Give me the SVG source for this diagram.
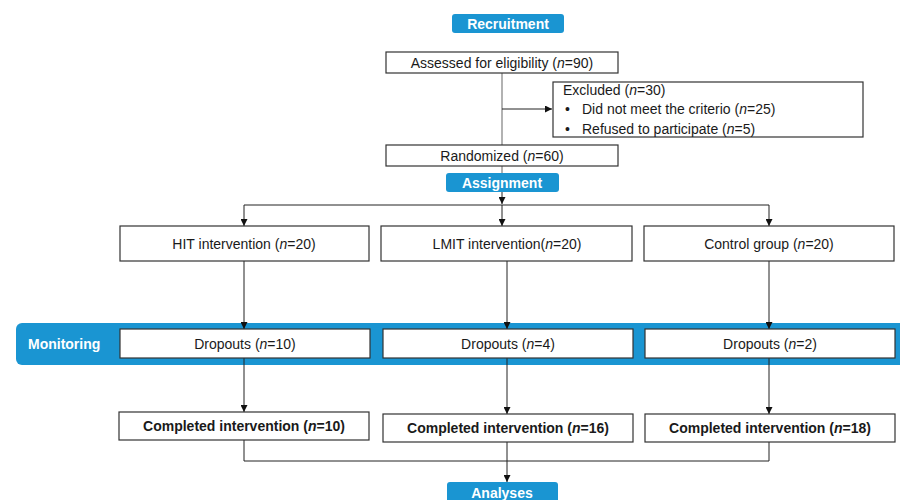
<svg xmlns="http://www.w3.org/2000/svg" width="900" height="500" viewBox="0 0 900 500">
<defs>
<marker id="ah" viewBox="0 0 10 10" refX="10" refY="5" markerWidth="7" markerHeight="7" markerUnits="userSpaceOnUse" orient="auto"><path d="M0,0 L10,5 L0,10 z" fill="#111"/></marker>
<style>
.box{fill:#fff;stroke:#333;stroke-width:1.2}
.hdr{fill:#1a95d2}
.t{font-family:"Liberation Sans",Arial,sans-serif;font-size:14px;fill:#1a1a1a}
.b{font-weight:bold}
.w{font-family:"Liberation Sans",Arial,sans-serif;font-size:14px;font-weight:bold;fill:#fff}
.ln{fill:none;stroke:#222;stroke-width:1}
.gl{fill:none;stroke:#999;stroke-width:1.5}
</style>
</defs>
<rect width="900" height="500" fill="#fff"/>
<g id="band-monitoring"><rect class="hdr" x="16" y="323" width="890" height="42" rx="6"/><text class="w" x="28" y="349">Monitoring</text></g>
<g id="connectors">
<path class="gl" d="M502,73 V145"/>
<path class="ln" d="M502,109 H552" marker-end="url(#ah)"/>
<path class="gl" d="M502,166 V173"/>
<path class="ln" d="M502,192 V204" marker-end="url(#ah)"/>
<path class="ln" d="M244,205 H769"/>
<path class="ln" d="M244,205 V226" marker-end="url(#ah)"/>
<path class="ln" d="M502,205 V226" marker-end="url(#ah)"/>
<path class="ln" d="M769,205 V226" marker-end="url(#ah)"/>
<path class="ln" d="M244,261 V329" marker-end="url(#ah)"/>
<path class="ln" d="M507,261 V329" marker-end="url(#ah)"/>
<path class="ln" d="M769,261 V329" marker-end="url(#ah)"/>
<path class="ln" d="M244,358 V412" marker-end="url(#ah)"/>
<path class="ln" d="M507,358 V414" marker-end="url(#ah)"/>
<path class="ln" d="M769,358 V414" marker-end="url(#ah)"/>
<path class="ln" d="M244,440 V461 H769 V442"/>
<path class="ln" d="M507,442 V482" marker-end="url(#ah)"/>
</g>
<g id="recruitment"><rect class="hdr" x="452" y="14" width="112" height="19" rx="3"/><text class="w" x="508" y="28.5" text-anchor="middle">Recruitment</text></g>
<g id="assessed"><rect class="box" x="386" y="52" width="232" height="21"/><text class="t" x="502" y="67.5" text-anchor="middle">Assessed for eligibility (<tspan font-style="italic">n</tspan>=90)</text></g>
<g id="excluded"><rect class="box" x="553" y="82" width="310" height="55"/>
<text class="t" x="563" y="95">Excluded (<tspan font-style="italic">n</tspan>=30)</text>
<text class="t" x="565" y="114">•</text><text class="t" x="582" y="114">Did not meet the criterio (<tspan font-style="italic">n</tspan>=25)</text>
<text class="t" x="565" y="134">•</text><text class="t" x="582" y="134">Refused to participate (<tspan font-style="italic">n</tspan>=5)</text></g>
<g id="randomized"><rect class="box" x="386" y="145" width="232" height="21"/><text class="t" x="502" y="160.5" text-anchor="middle">Randomized (<tspan font-style="italic">n</tspan>=60)</text></g>
<g id="assignment"><rect class="hdr" x="446" y="173" width="113" height="19" rx="3"/><text class="w" x="502" y="187.5" text-anchor="middle">Assignment</text></g>
<g id="hit"><rect class="box" x="120" y="226" width="249" height="35"/><text class="t" x="244" y="248.5" text-anchor="middle">HIT intervention (<tspan font-style="italic">n</tspan>=20)</text></g>
<g id="lmit"><rect class="box" x="381" y="226" width="251" height="35"/><text class="t" x="507" y="248.5" text-anchor="middle">LMIT intervention(<tspan font-style="italic">n</tspan>=20)</text></g>
<g id="control"><rect class="box" x="644" y="226" width="250" height="35"/><text class="t" x="769" y="248.5" text-anchor="middle">Control group (<tspan font-style="italic">n</tspan>=20)</text></g>
<g id="drop-hit"><rect class="box" x="120" y="329" width="250" height="29"/><text class="t" x="245" y="348.5" text-anchor="middle">Dropouts (<tspan font-style="italic">n</tspan>=10)</text></g>
<g id="drop-lmit"><rect class="box" x="383" y="329" width="250" height="29"/><text class="t" x="508" y="348.5" text-anchor="middle">Dropouts (<tspan font-style="italic">n</tspan>=4)</text></g>
<g id="drop-control"><rect class="box" x="645" y="329" width="250" height="29"/><text class="t" x="770" y="348.5" text-anchor="middle">Dropouts (<tspan font-style="italic">n</tspan>=2)</text></g>
<g id="comp-hit"><rect class="box" x="119" y="412" width="250" height="28"/><text class="t b" x="244" y="431" text-anchor="middle">Completed intervention (<tspan font-style="italic">n</tspan>=10)</text></g>
<g id="comp-lmit"><rect class="box" x="383" y="414" width="250" height="28"/><text class="t b" x="508" y="433" text-anchor="middle">Completed intervention (<tspan font-style="italic">n</tspan>=16)</text></g>
<g id="comp-control"><rect class="box" x="645" y="414" width="250" height="28"/><text class="t b" x="770" y="433" text-anchor="middle">Completed intervention (<tspan font-style="italic">n</tspan>=18)</text></g>
<g id="analyses"><rect class="hdr" x="447" y="482" width="111" height="22" rx="3"/><text class="w" x="502" y="497.5" text-anchor="middle">Analyses</text></g>
</svg>
